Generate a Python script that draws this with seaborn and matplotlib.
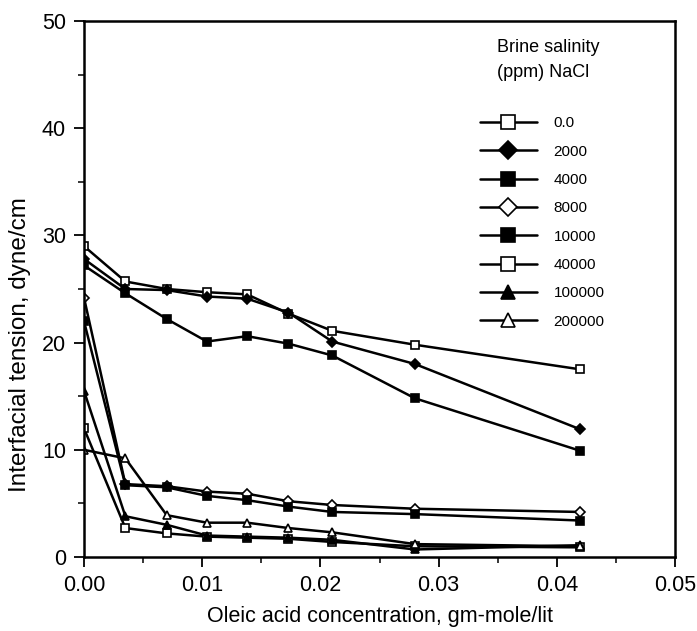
import numpy as np
import pandas as pd
import matplotlib
matplotlib.use("Agg")
import matplotlib.pyplot as plt
import seaborn as sns
from matplotlib.ticker import MultipleLocator, FormatStrFormatter

# Oleic acid concentration (gm-mole/lit), same for every series
concentration = [0.0, 0.0035, 0.007, 0.0104, 0.0138, 0.0173, 0.021, 0.028, 0.042]

# Brine salinity legend labels
salinity = ["0.0", "2000", "4000", "8000", "10000", "40000", "100000", "200000"]

# Interfacial tension (dyne/cm)
ift_0 = [29.0, 25.7, 25.0, 24.7, 24.5, 22.7, 21.1, 19.8, 17.5]
ift_2000 = [27.8, 25.0, 24.9, 24.3, 24.1, 22.8, 20.1, 18.0, 11.9]
ift_4000 = [27.2, 24.6, 22.2, 20.1, 20.6, 19.9, 18.8, 14.8, 9.9]
ift_8000 = [24.2, 6.8, 6.6, 6.1, 5.9, 5.2, 4.85, 4.5, 4.2]
ift_10000 = [22.0, 6.7, 6.5, 5.7, 5.3, 4.7, 4.2, 4.0, 3.4]
ift_40000 = [12.0, 2.7, 2.2, 1.9, 1.8, 1.7, 1.4, 1.0, 0.9]
ift_100000 = [15.5, 3.8, 3.0, 2.0, 1.9, 1.8, 1.6, 0.7, 1.1]
ift_200000 = [10.0, 9.2, 3.9, 3.2, 3.2, 2.7, 2.3, 1.2, 1.0]

series = [ift_0, ift_2000, ift_4000, ift_8000, ift_10000, ift_40000, ift_100000, ift_200000]
markers = ["s", "D", "s", "D", "s", "s", "^", "^"]
filled = [False, True, True, False, True, False, True, False]

sns.set_style("ticks")
plt.rcParams.update({
    "font.family": ["Liberation Sans", "DejaVu Sans"],
    "text.color": "black",
    "axes.labelcolor": "black",
    "xtick.color": "black",
    "ytick.color": "black",
})

fig, ax = plt.subplots(figsize=(6.97, 6.31), dpi=100)
fig.subplots_adjust(left=0.1205, right=0.9685, top=0.9667, bottom=0.1173)

for label, vals, mk, fill in zip(salinity, series, markers, filled):
    df = pd.DataFrame({"conc": concentration, "ift": vals})
    sns.lineplot(data=df, x="conc", y="ift", ax=ax, color="black", lw=1.8,
                 marker=mk, markersize=6 if mk != "D" else 5.5,
                 markerfacecolor="black" if fill else "white",
                 markeredgecolor="black", markeredgewidth=1.2,
                 label=label, legend=False)

ax.set_xlim(0, 0.05)
ax.set_ylim(0, 50)
ax.xaxis.set_major_locator(MultipleLocator(0.01))
ax.xaxis.set_minor_locator(MultipleLocator(0.005))
ax.xaxis.set_major_formatter(FormatStrFormatter("%.2f"))
ax.yaxis.set_major_locator(MultipleLocator(10))
ax.yaxis.set_minor_locator(MultipleLocator(5))

for s in ax.spines.values():
    s.set_linewidth(1.8)
    s.set_color("black")
ax.tick_params(which="major", direction="out", length=7, width=1.3,
               labelsize=15.5, pad=6)
ax.tick_params(which="minor", direction="out", length=4, width=1.1)

ax.set_xlabel("Oleic acid concentration, gm-mole/lit", fontsize=15.5, labelpad=7)
ax.set_ylabel("Interfacial tension, dyne/cm", fontsize=17.5, labelpad=8)
ax.yaxis.set_label_coords(-0.09, 0.396)

ax.text(0.699, 0.927, "Brine salinity\n(ppm) NaCl", transform=ax.transAxes,
        fontsize=13, ha="left", va="center", linespacing=1.65)

ax.legend(loc="upper left", bbox_to_anchor=(0.647, 0.848), frameon=False,
          fontsize=11, handlelength=3.7, handletextpad=1.1,
          labelspacing=0.94, markerscale=1.6, borderpad=0.4)

fig.savefig("out.png", dpi=100, facecolor="white")
